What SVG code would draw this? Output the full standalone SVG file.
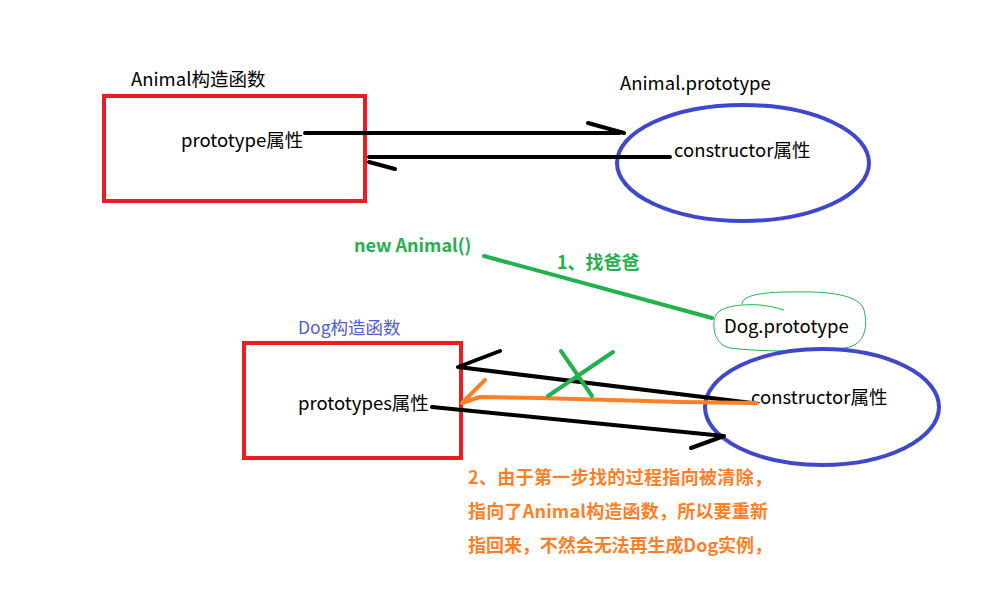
<svg xmlns="http://www.w3.org/2000/svg" width="996" height="594" viewBox="0 0 996 594">
<style>
text{font-family:"Noto Sans CJK SC","Microsoft YaHei",sans-serif;font-size:18.5px;fill:#000}
.box{fill:none;stroke:#ed1c24;stroke-width:4}
.ell{fill:none;stroke:#3f48cc;stroke-width:4}
.blk{fill:none;stroke:#000;stroke-width:4;stroke-linecap:round;stroke-linejoin:round}
.grn{fill:none;stroke:#22b14c;stroke-width:4;stroke-linecap:round}
.org{fill:none;stroke:#ff7f27;stroke-width:4;stroke-linecap:round;stroke-linejoin:round}
.gt{fill:#22b14c;font-weight:bold;font-size:18px}
.ot{fill:#ff7f27;font-weight:bold;font-size:18px}
</style>
<rect width="996" height="594" fill="#fff"/>
<g id="animal-ctor">
<rect class="box" x="104" y="96" width="261" height="105"/>
<text x="131" y="86">Animal构造函数</text>
<text x="181" y="147">prototype属性</text>
</g>
<g id="animal-proto">
<ellipse class="ell" cx="743" cy="163" rx="126" ry="58"/>
<text x="620" y="90">Animal.prototype</text>
<text x="674" y="157">constructor属性</text>
</g>
<g id="new-animal">
<text class="gt" x="354" y="252">new Animal()</text>
</g>
<g id="dog-proto">
<path d="M742,304 C742,296 760,292 790,292 C830,291 860,295 864,310 C868,325 866,345 845,348 C815,352 760,352 730,348 C712,344 712,322 716,315 C722,305 745,304 760,305 C768,306 775,307 784,310" fill="none" stroke="#22b14c" stroke-width="1"/>
<text x="724" y="333">Dog.prototype</text>
</g>
<g id="dog-ctor">
<rect class="box" x="244" y="343" width="217" height="115"/>
<text x="298" y="334" style="fill:#4f5bd5;font-size:17.5px">Dog构造函数</text>
<text x="298" y="410">prototypes属性</text>
</g>
<g id="dog-proto-ellipse">
<ellipse class="ell" cx="822" cy="407" rx="117" ry="58"/>
<text x="751" y="404">constructor属性</text>
</g>
<g id="connectors">
<path class="blk" d="M305,133 L620,133 M588,123 L624,133"/>
<path class="blk" d="M670,157 L369,157 M369,162 L395,169"/>
<path class="grn" d="M484,256 L712,318"/>
<path class="blk" d="M752,403 L458,367 L500,351"/>
<path class="org" d="M757,403 L680,402 L540,398 L480,397 L462,403 L485,380"/>
<path class="blk" d="M432,407 L724,436 L691,448"/>
<path class="grn" d="M548,396 L613,352 M561,351 L592,396"/>
</g>
<g id="note">
<text class="gt" x="557" y="269">1、找爸爸</text>
<text class="ot" x="468" y="484" textLength="304" lengthAdjust="spacing">2、由于第一步找的过程指向被清除，</text>
<text class="ot" x="468" y="518" textLength="300" lengthAdjust="spacing">指向了Animal构造函数，所以要重新</text>
<text class="ot" x="468" y="552" textLength="304" lengthAdjust="spacing">指回来，不然会无法再生成Dog实例，</text>
</g>
</svg>
